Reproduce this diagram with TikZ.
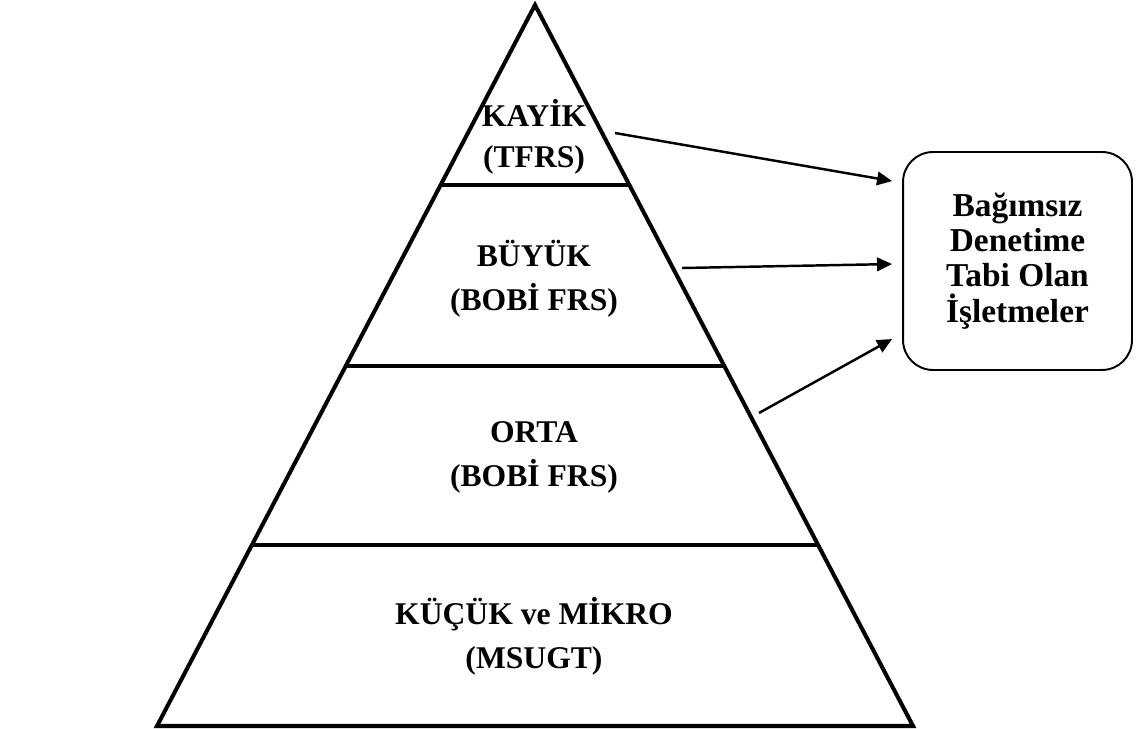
\documentclass[tikz,border=0pt]{standalone}
\usepackage{fontspec}
\setmainfont{Liberation Serif}
\usepackage{tikz}
\usetikzlibrary{
  arrows.meta,
  positioning,
  calc
}
\definecolor{LineBlack}{RGB}{0, 0, 0}
\tikzset{
    layertext/.style={font=\fontsize{18}{25}\selectfont\bfseries, align=center},
    auditbox/.style={draw=LineBlack, line width=1.1pt, rounded corners=0.6cm, minimum width=4.58cm, minimum height=4.36cm, align=center, font=\fontsize{19}{20.1}\selectfont\bfseries},
    linkarrow/.style={draw=LineBlack, line width=1.4pt, -{Triangle[length=0.3cm, width=0.27cm]}}
}

\begin{document}
\begin{tikzpicture}[x=0.02cm, y=-0.02cm]
            \useasboundingbox (0,0) rectangle (1138,729);
            % pyramid outline
            \coordinate (apex) at (535,5);
            \coordinate (baseL) at (157,726);
            \coordinate (baseR) at (913,726);
            \draw[line width=2.3pt, line join=miter] (apex) -- (baseL) -- (baseR) -- cycle;
            \foreach \y in {185,366,545}{
                \draw[line width=2.3pt] ($(apex)!{(\y-5)/721}!(baseL)$) -- ($(apex)!{(\y-5)/721}!(baseR)$);
            }
            % layer labels
            \node[layertext, font=\fontsize{18}{23.3}\selectfont\bfseries] (kayik) at (534,137) {KAYİK\\(TFRS)};
            \node[layertext] (buyuk) at (534,279) {BÜYÜK\\(BOBİ FRS)};
            \node[layertext] (orta) at (534,457) {ORTA\\(BOBİ FRS)};
            \node[layertext] (kucuk) at (534,636) {KÜÇÜK ve MİKRO\\(MSUGT)};
            % audited firms
            \node[auditbox] (audit) at (1017.5,261) {Bağımsız\\Denetime\\Tabi Olan\\İşletmeler};
            \coordinate (fromKayik) at (615,133);
            \coordinate (fromBuyuk) at (682,268);
            \coordinate (fromOrta) at (759,413);
            \draw[linkarrow] (fromKayik) -- ([shift={(-10,30)}]audit.north west);
            \draw[linkarrow] (fromBuyuk) -- ([shift={(-10,113)}]audit.north west);
            \draw[linkarrow] (fromOrta) -- ([shift={(-10,188)}]audit.north west);
        \end{tikzpicture}
\end{document}
